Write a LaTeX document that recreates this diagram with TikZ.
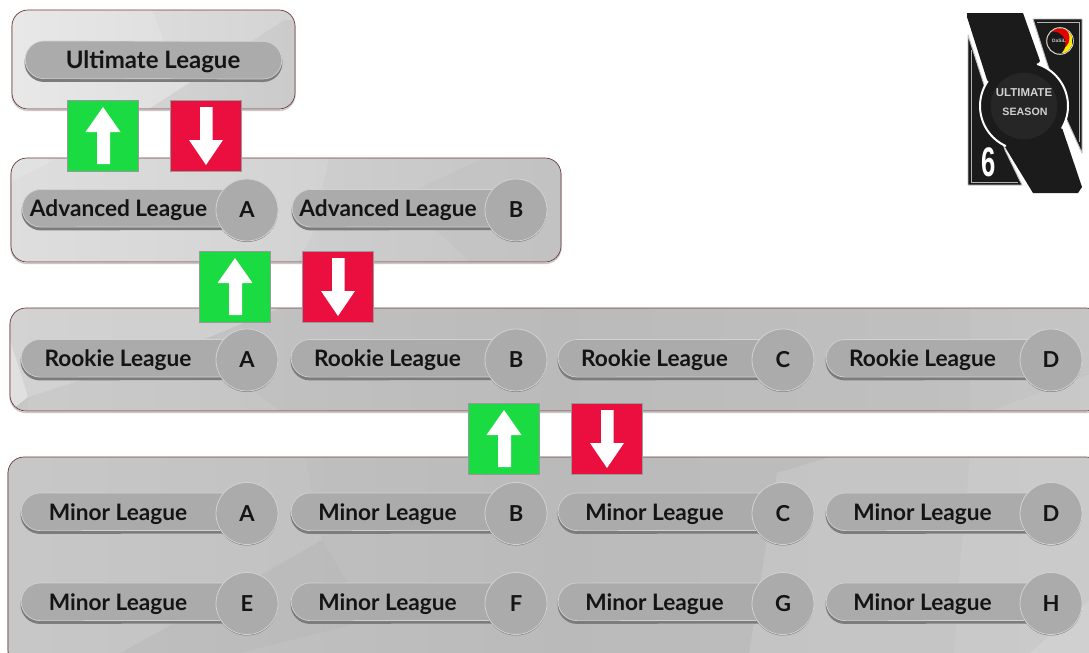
\documentclass[tikz,border=0pt]{standalone}
\usepackage{fontspec}
\setmainfont{Lato}
\setsansfont{Liberation Sans}
\definecolor{pillgray}{HTML}{ABABAB}
\definecolor{pilledge}{HTML}{7C7C7C}
\definecolor{pilllight}{HTML}{D2D2D2}
\definecolor{upgreen}{HTML}{1BDB42}
\definecolor{downred}{HTML}{EA0F3E}
\definecolor{panelrim}{HTML}{6E3B3B}
\definecolor{logodark}{HTML}{1B1B1B}
\definecolor{logomid}{HTML}{262626}
\tikzset{
  x=0.75pt,y=-0.75pt,
  panelline/.style={draw=panelrim,line width=0.5pt,rounded corners=12pt},
  panelshadow/.style={draw=black!22,line width=1pt,rounded corners=12pt},
  lite/.style={fill=white,opacity=#1},
  lite/.default=0.1,
  dark/.style={fill=black,opacity=#1},
  dark/.default=0.04,
  pilltext/.style={font=\bfseries\fontsize{17}{18}\selectfont,text=black!92,inner sep=0pt,anchor=center},
  lettertext/.style={font=\bfseries\fontsize{16.5}{18}\selectfont,text=black!92,inner sep=0pt,anchor=center},
  badge/.style={circle,minimum size=46.5pt,inner sep=0pt,fill=pillgray,draw=pilllight,line width=0.6pt},
  arrowsq/.style={draw=black!40,line width=0.4pt,minimum width=53.5pt,minimum height=53pt,inner sep=0pt,anchor=north west},
  whitearrow/.style={fill=white},
  logopanel/.style={fill=logodark,draw=white!75!black,line width=0.7pt,line join=round},
  logoring/.style={draw=white,line width=1.5pt,line cap=round},
  logotext/.style={font=\bfseries\fontsize{8.6}{9}\selectfont\sffamily,text=white!82!black,inner sep=0pt},
}
\newcommand{\leaguepill}[6]{% name, left, right, cy, text, letter
  \fill[pilledge] (#2+19,#4-17.5) arc[start angle=90,end angle=270,radius=14.6pt] -- (#3,#4+21) -- (#3,#4-17.5) -- cycle;
  \fill[pillgray,draw=pilllight,line width=0.5pt] (#2+19,#4-19.5) arc[start angle=90,end angle=270,radius=14.1pt] -- (#3,#4+18) -- (#3,#4-19.5) -- cycle;
  \node[pilltext] (#1t) at ({(#2+#3)/2-5},#4+1.5) {#5};
  \fill[pilledge] (#3+22,#4+2) circle[radius=23.25pt];
  \node[badge] (#1c) at (#3+22,#4+1) {};
  \node[lettertext] at (#1c) {#6};
}
\newcommand{\updown}[3]{% name, left x of green, top y
  \node[arrowsq,fill=upgreen] (#1u) at (#2,#3) {};
  \fill[whitearrow] (#2+36,#3+7) -- (#2+53.5,#3+32) -- (#2+43,#3+32) -- (#2+43,#3+64) -- (#2+30,#3+64) -- (#2+30,#3+32) -- (#2+18.5,#3+32) -- cycle;
  \node[arrowsq,fill=downred] (#1d) at (#2+103,#3) {};
  \fill[whitearrow] (#2+133,#3+7) -- (#2+145.5,#3+7) -- (#2+145.5,#3+40) -- (#2+156,#3+40) -- (#2+139,#3+65) -- (#2+122,#3+40) -- (#2+133,#3+40) -- cycle;
}
\begin{document}
\begin{tikzpicture}
\useasboundingbox (0,0) rectangle (1089,653);
\fill[white] (0,0) rectangle (1089,653);

% Panel 1
\draw[panelshadow] (12,11.5) rectangle (295,110.5);
\begin{scope}
 \clip[rounded corners=12pt] (12,10) rectangle (295,109);
 \fill[left color=white!91!black,right color=white!85!black] (12,10) rectangle (295,109);
 \fill[dark=0.02] (153,10) -- (295,10) -- (295,109) -- (149,109) -- (189,83) -- (164,43) -- cycle;
 \fill[dark=0.04] (189,83) -- (284,20) -- (295,20) -- (295,109) -- (149,109) -- cycle;
\end{scope}
\draw[panelline] (12,10) rectangle (295,109);

% Panel 2
\draw[panelshadow] (11,159.5) rectangle (561,263.5);
\begin{scope}
 \clip[rounded corners=12pt] (11,158) rectangle (561,262);
 \fill[left color=white!87!black,right color=white!79!black] (11,158) rectangle (561,262);
 \fill[lite=0.12] (11,182) -- (58,158) -- (11,158) -- cycle;
 \fill[dark=0.02] (329,158) -- (561,158) -- (561,262) -- (298,262) -- (313,233) -- cycle;
 \fill[dark=0.02] (484,158) -- (561,158) -- (561,262) -- (470,262) -- (400,197) -- cycle;
\end{scope}
\draw[panelline] (11,158) rectangle (561,262);

% Panel 3
\draw[panelshadow] (10,309.5) rectangle (1102,412.5);
\begin{scope}
 \clip[rounded corners=12pt] (10,308) rectangle (1102,411);
 \fill[left color=white!78!black,right color=white!76!black,middle color=white!73!black] (10,308) rectangle (1102,411);
 \fill[lite=0.22] (10,308) -- (280,308) -- (190,345) -- (28,397) -- (10,411) -- cycle;
 \fill[lite=0.08] (190,345) -- (280,411) -- (28,411) -- (28,397) -- cycle;
 \fill[lite=0.3] (10,340) -- (28,397) -- (10,411) -- cycle;
 \fill[lite=0.05] (970,308) -- (1102,308) -- (1102,411) -- (970,411) -- cycle;
 \fill[lite=0.08] (990,411) -- (1102,370) -- (1102,411) -- cycle;
\end{scope}
\draw[panelline] (10,308) rectangle (1102,411);

% Panel 4
\draw[panelshadow] (8,458.5) rectangle (1102,667.5);
\begin{scope}
 \clip[rounded corners=12pt] (8,457) rectangle (1102,666);
 \fill[left color=white!77!black,right color=white!75!black,middle color=white!73!black] (8,457) rectangle (1102,666);
 \fill[lite=0.06] (50,457) -- (305,457) -- (322,540) -- (255,580) -- (120,653) -- (8,653) -- (8,457) -- cycle;
 \fill[dark=0.02] (322,540) -- (370,620) -- (240,653) -- (120,653) -- cycle;
 \fill[lite=0.12] (830,457) -- (1102,457) -- (1102,666) -- (747,666) -- (765,553) -- (777,473) -- cycle;
 \fill[lite=0.08] (970,457) -- (1102,457) -- (1102,666) -- (953,666) -- (960,567) -- cycle;
 \fill[lite=0.12] (1030,653) -- (1089,600) -- (1089,653) -- cycle;
\end{scope}
\draw[panelline] (8,457) rectangle (1102,666);

% Ultimate pill
\fill[pilledge] (44,43) arc[start angle=90,end angle=270,radius=14.6pt] -- (263,82) arc[start angle=-90,end angle=90,radius=14.6pt] -- cycle;
\fill[pillgray,draw=pilllight,line width=0.5pt] (44,41) arc[start angle=90,end angle=270,radius=14.1pt] -- (263,79) arc[start angle=-90,end angle=90,radius=14.1pt] -- cycle;
\node[pilltext,font=\bfseries\fontsize{18}{20}\selectfont] (ultimate) at (153,61.5) {Ultimate League};

% Rows
\leaguepill{aa}{22}{225}{209}{Advanced League}{A}
\leaguepill{ab}{292}{494}{209}{Advanced League}{B}
\foreach \n/\l/\r/\L in {ra/21/225/A,rb/291/494/B,rc/558/761/C,rd/826/1029/D}{
  \leaguepill{\n}{\l}{\r}{359}{Rookie League}{\L}
}
\foreach \n/\l/\r/\L in {ma/21/225/A,mb/291/494/B,mc/558/761/C,md/826/1029/D}{
  \leaguepill{\n}{\l}{\r}{512.5}{Minor League}{\L}
}
\foreach \n/\l/\r/\L in {me/21/225/E,mf/291/494/F,mg/558/761/G,mh/826/1029/H}{
  \leaguepill{\n}{\l}{\r}{602.5}{Minor League}{\L}
}

% Arrow squares
\updown{one}{67}{100}
\updown{two}{199}{251}
\updown{three}{468}{403}

% Logo
\draw[logopanel] (968,35) -- (1005,150) -- (1022,185) -- (968,185) -- cycle;
\draw[logopanel] (1033,19) -- (1082,19) -- (1082,153) -- (1066,118) -- (1046,60) -- cycle;
\draw[white!70!black,line width=0.4pt] (971,50) -- (971,182) -- (1018,182);
\draw[white!70!black,line width=0.4pt] (1037,22) -- (1079,22) -- (1079,142);
\fill[logodark,line join=round] (967,13) -- (1023,13) -- (1040,61)
  -- plot[domain=72:-30,samples=24] ({1024+44*cos(\x)},{106-44*sin(\x)})
  -- (1082,187) -- (1078,193) -- (1033,193) -- (1005,147)
  -- plot[domain=245:146,samples=24] ({1024+44*cos(\x)},{106-44*sin(\x)})
  -- (967,17) -- cycle;
\draw[logoring] plot[domain=146:245,samples=30] ({1024+44*cos(\x)},{106-44*sin(\x)});
\draw[logoring] plot[domain=72:-30,samples=30] ({1024+44*cos(\x)},{106-44*sin(\x)});
\fill[logomid] (1024,106) circle[radius=25pt];
\node[logotext] (lt1) at (1024,93) {ULTIMATE};
\node[logotext,font=\bfseries\fontsize{8}{9}\selectfont\sffamily] (lt2) at (1025,112) {SEASON};
\fill[black] (1060,41) circle[radius=10pt];
\begin{scope}
 \clip (1060,41) circle[radius=9.5pt];
 \fill[yellow!92!orange] (1060,41) circle[radius=12.7];
 \fill[red!90!black] (1057,38) circle[radius=12.5];
 \fill[black!90] (1053,44) circle[radius=12.5];
\end{scope}
\draw[white!85!black,line width=0.7pt] (1060,41) circle[radius=10pt];
\node[font=\bfseries\fontsize{3.6}{4}\selectfont\sffamily,text=white!80!black,inner sep=0pt] (dasil) at (1059,41) {DaSiL};
\node[font=\bfseries\fontsize{31}{31}\selectfont\sffamily,text=white,inner sep=0pt,xscale=0.62,transform shape] (six) at (988.5,162.5) {6};
\end{tikzpicture}
\end{document}
